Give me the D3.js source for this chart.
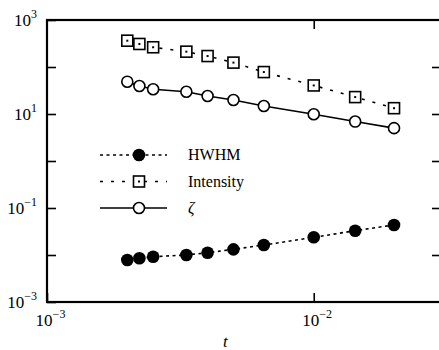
<!DOCTYPE html>
<html lang="en">
<head>
    <meta charset="UTF-8">
    <title>HWHM, Intensity, zeta vs t</title>
    <script src="https://d3js.org/d3.v7.min.js"></script>
    <style>
        body { margin: 0; background: #fff; }
        text { font-family: "Liberation Serif", "DejaVu Serif", serif; fill: #000; }
    </style>
</head>
<body>
<div id="my_dataviz"></div>
<script>

    // data
    var tVals     = [0.002, 0.00222, 0.0025, 0.00333, 0.004, 0.005, 0.0065, 0.01, 0.0143, 0.02];
    var hwhm      = [0.0078, 0.0085, 0.0092, 0.0100, 0.0112, 0.0132, 0.0163, 0.0238, 0.0329, 0.0435];
    var intensity = [363, 309, 263, 212, 171, 124, 78, 40.5, 22.9, 13.3];
    var zeta      = [48.7, 39.4, 33.6, 29.8, 24.1, 19.9, 14.8, 9.86, 6.9, 5.0];

    var xTicks = [1e-3, 1e-2];
    var xTickLabels = ["\u22123", "\u22122"];
    var yTicks = [1e3, 1e2, 1e1, 1, 1e-1, 1e-2, 1e-3];
    var yTickLabels = {"1000": "3", "10": "1", "0.1": "\u22121", "0.001": "\u22123"};

    // set the dimensions and margins of the graph
    var W = 439, H = 350;
    var margin = {top: 20, left: 47},
        width = 394,
        height = 282;

    var svg = d3.select("#my_dataviz")
        .append("svg")
        .attr("width", W)
        .attr("height", H)
        .append("g")
        .attr("transform", "translate(" + margin.left + "," + margin.top + ")");

    var x = d3.scaleLog().domain([1e-3, 3e-2]).range([0, width]);
    var y = d3.scaleLog().domain([1e-3, 1e3]).range([height, 0]);

    function pow10(sel, expo) {
        sel.text(null);
        sel.append("tspan").text("10");
        sel.append("tspan").attr("font-size", 12).attr("dy", -8).text(expo);
    }

    // Y axis (left, labels) + right ticks
    var yAxisG = svg.append("g")
        .call(d3.axisLeft(y).tickValues(yTicks).tickSizeInner(-9).tickSizeOuter(0).tickPadding(10));
    yAxisG.select(".domain").remove();
    yAxisG.selectAll(".tick line").attr("stroke-width", 1.6);
    yAxisG.selectAll(".tick text")
        .attr("font-size", 17)
        .attr("font-family", "Liberation Serif")
        .each(function(d) {
            var k = String(+d.toPrecision(3));
            var t = d3.select(this);
            if (yTickLabels[k] !== undefined) pow10(t, yTickLabels[k]);
            else t.text("");
        });

    var yRight = svg.append("g")
        .attr("transform", "translate(" + width + ",0)")
        .call(d3.axisRight(y).tickValues(yTicks.slice(1, -1)).tickSizeInner(-9).tickSizeOuter(0).tickFormat(""));
    yRight.select(".domain").remove();
    yRight.selectAll(".tick line").attr("stroke-width", 1.6);

    // X axis (bottom, labels) + top ticks
    var xAxisG = svg.append("g")
        .attr("transform", "translate(0," + height + ")")
        .call(d3.axisBottom(x).tickValues(xTicks).tickSizeInner(-9).tickSizeOuter(0).tickPadding(12));
    xAxisG.select(".domain").remove();
    xAxisG.selectAll(".tick line").attr("stroke-width", 1.6);
    xAxisG.selectAll(".tick text")
        .attr("font-size", 17)
        .attr("font-family", "Liberation Serif")
        .attr("dx", 3)
        .each(function(d, i) { pow10(d3.select(this), xTickLabels[i]); });

    var xTop = svg.append("g")
        .call(d3.axisTop(x).tickValues([1e-2]).tickSizeInner(-9).tickSizeOuter(0).tickFormat(""));
    xTop.select(".domain").remove();
    xTop.selectAll(".tick line").attr("stroke-width", 1.6);

    // frame
    svg.append("rect")
        .attr("x", 0).attr("y", 0)
        .attr("width", width).attr("height", height)
        .attr("fill", "none").attr("stroke", "#000").attr("stroke-width", 2.2);

    svg.append("text")
        .attr("x", 176).attr("y", 327)
        .attr("font-size", 17)
        .attr("font-style", "italic")
        .text("t");

    // series
    var series = [
        {name: "HWHM", values: hwhm, dash: "3,3.5", marker: "dot"},
        {name: "Intensity", values: intensity, dash: "3,8", marker: "square"},
        {name: "\u03b6", values: zeta, dash: null, marker: "circle"}
    ];

    var line = d3.line()
        .x(function(d) { return x(d.t); })
        .y(function(d) { return y(d.v); });

    function drawMarker(g, kind) {
        if (kind === "dot") {
            g.append("circle").attr("r", 6.3).attr("fill", "#000");
        } else if (kind === "square") {
            g.append("rect").attr("x", -5.5).attr("y", -5.5).attr("width", 11).attr("height", 11)
                .attr("fill", "#fff").attr("stroke", "#000").attr("stroke-width", 1.6);
            g.append("rect").attr("x", -1).attr("y", -1).attr("width", 2).attr("height", 2).attr("fill", "#000");
        } else {
            g.append("circle").attr("r", 5.5)
                .attr("fill", "#fff").attr("stroke", "#000").attr("stroke-width", 1.6);
        }
    }

    series.forEach(function(s) {
        var pts = tVals.map(function(t, i) { return {t: t, v: s.values[i]}; });
        svg.append("path")
            .datum(pts)
            .attr("d", line)
            .attr("fill", "none")
            .attr("stroke", "#000")
            .attr("stroke-width", 1.6)
            .attr("stroke-dasharray", s.dash);
        pts.forEach(function(p) {
            var g = svg.append("g").attr("transform", "translate(" + x(p.t) + "," + y(p.v) + ")");
            drawMarker(g, s.marker);
        });
    });

    // legend
    var legend = svg.append("g").attr("transform", "translate(53,135)");
    series.forEach(function(s, i) {
        var gy = i * 26.5;
        legend.append("line")
            .attr("x1", 0).attr("x2", 67).attr("y1", gy).attr("y2", gy)
            .attr("stroke", "#000").attr("stroke-width", 1.6)
            .attr("stroke-dasharray", s.dash);
        var g = legend.append("g").attr("transform", "translate(39," + gy + ")");
        drawMarker(g, s.marker);
        legend.append("text")
            .attr("x", 88).attr("y", gy + 5)
            .attr("font-size", 16)
            .attr("font-style", s.marker === "circle" ? "italic" : "normal")
            .text(s.name);
    });

</script>
</body>
</html>
